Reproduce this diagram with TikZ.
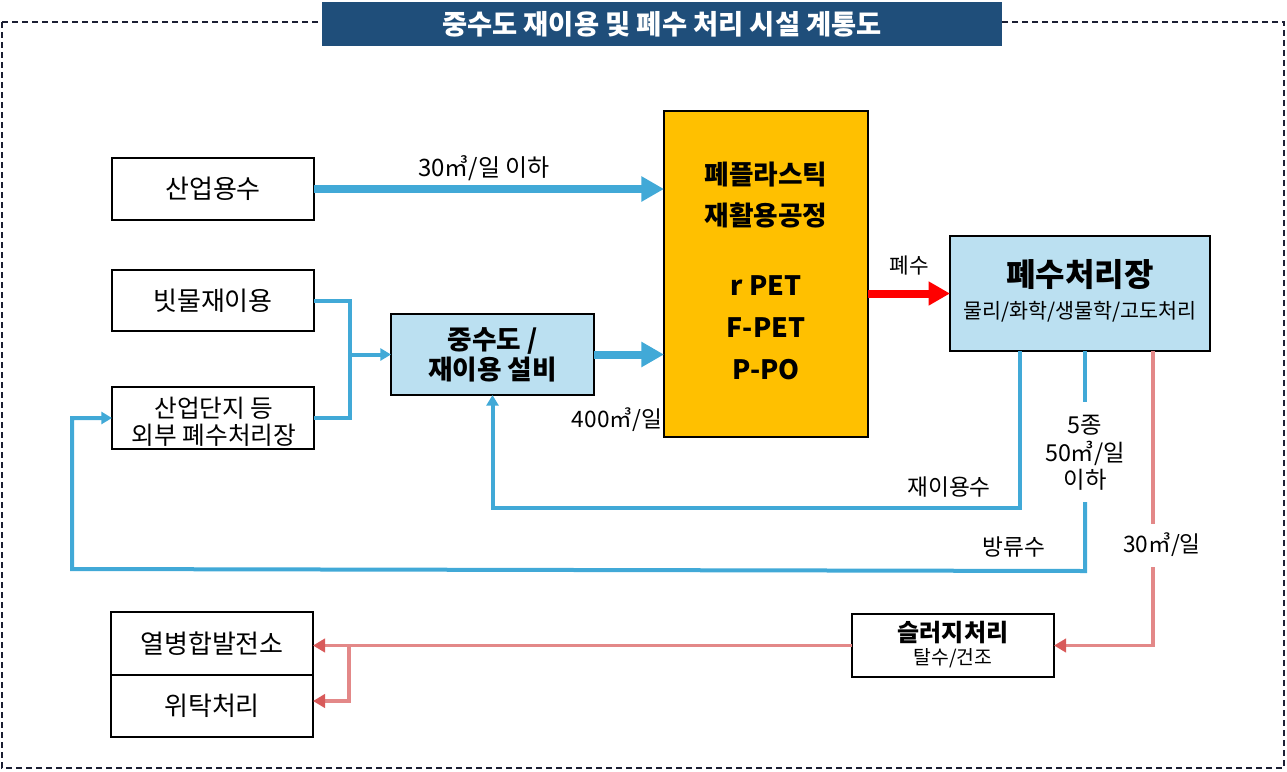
\documentclass[tikz,border=0pt]{standalone}
\usepackage{fontspec}
\setmainfont{Noto Sans CJK KR}
\usetikzlibrary{arrows.meta,calc}
\newdimen\pxu \pxu=0.75pt
\definecolor{lineblue}{HTML}{41A9D7}
\definecolor{boxblue}{HTML}{BBE0F1}
\definecolor{plasticyellow}{HTML}{FFC000}
\definecolor{titleblue}{HTML}{1F4E7A}
\definecolor{framecol}{HTML}{1B1F33}
\definecolor{pinkline}{HTML}{E38888}
\definecolor{pinktip}{HTML}{D85A5A}
\begin{document}
\begin{tikzpicture}[x=0.75pt,y=-0.75pt,
  box/.style={draw=black, line width=1.5pt, inner sep=0pt, outer sep=0pt, align=center,
    font=\fontsize{19.5pt}{20.25pt}\selectfont},
  t17/.style={inner sep=0pt, align=center, font=\fontsize{17.5pt}{20.6pt}\selectfont},
  t15/.style={inner sep=0pt, font=\fontsize{17pt}{20pt}\selectfont},
  bt18/.style={inner sep=0pt, font=\fontsize{20pt}{24pt}\selectfont\bfseries},
  thickblue/.style={draw=lineblue, line width=6pt, -{Triangle[length=17pt,width=18pt]}},
  thinblue/.style={draw=lineblue, line width=3pt},
  thinbluearrow/.style={thinblue, -{Triangle[length=8pt,width=9pt]}},
  redarrow/.style={draw=red, line width=6pt, -{Triangle[length=16pt,width=17pt]}},
  pink/.style={draw=pinkline, line width=2.6pt},
  pinkarrow/.style={pink, -{Triangle[length=9pt,width=10pt,color=pinktip]}}
]
\useasboundingbox (0,0) rectangle (1287,771);
% outer frame
\draw[framecol, line width=2pt, dash pattern=on 4.5pt off 3pt] (2,22) rectangle (1284,768);
% title
\node[fill=titleblue, minimum width=680\pxu, minimum height=44\pxu, inner sep=0pt,
  text=white, font=\fontsize{20.5pt}{24pt}\selectfont\bfseries] (title) at (662,24)
  {중수도 재이용 및 폐수 처리 시설 계통도};

% boxes
\node[box, minimum width=202\pxu, minimum height=62\pxu] (sanup) at (213,189) {산업용수};
\node[box, minimum width=202\pxu, minimum height=61\pxu] (rain) at (213,300.5) {빗물재이용};
\node[box, minimum width=202\pxu, minimum height=62\pxu] (ext) at (213,418) {};
\node[inner sep=0pt, align=center, font=\fontsize{18.5pt}{20.25pt}\selectfont] (extT) at (214,421.5) {산업단지 등\\외부 폐수처리장};
\node[box, fill=boxblue, minimum width=203\pxu, minimum height=81\pxu,
  font=\fontsize{20pt}{22.5pt}\selectfont\bfseries] (grey) at (492.5,354.5) {중수도 /\\재이용 설비};
\node[box, fill=plasticyellow, minimum width=204\pxu, minimum height=326\pxu] (plastic) at (766,274) {};
\node[box, fill=boxblue, minimum width=260\pxu, minimum height=115\pxu] (wwtp) at (1080,293.5) {};
\node[box, minimum width=202\pxu, minimum height=63\pxu] (chp) at (212,643.5) {열병합발전소};
\node[box, minimum width=202\pxu, minimum height=62\pxu] (consign) at (212,706) {위탁처리};
\node[box, minimum width=202\pxu, minimum height=63\pxu] (sludge) at (953,645.5) {};

% texts inside boxes
\node[bt18] (p1) at (766,175) {폐플라스틱};
\node[bt18] (p2) at (766,215) {재활용공정};
\node[bt18] (p3) at (766,286) {r PET};
\node[bt18] (p4) at (766,328) {F-PET};
\node[bt18] (p5) at (766,370) {P-PO};
\node[inner sep=0pt, font=\fontsize{24pt}{28pt}\selectfont\bfseries] (wwtpT) at ($(wwtp.center)+(0,-18.5)$) {폐수처리장};
\node[inner sep=0pt, font=\fontsize{15.5pt}{18pt}\selectfont] (wwtpS) at ($(wwtp.center)+(0,18.5)$) {물리/화학/생물학/고도처리};
\node[inner sep=0pt, font=\fontsize{18pt}{21pt}\selectfont\bfseries] (sludgeT) at ($(sludge.center)+(0,-12.5)$) {슬러지처리};
\node[inner sep=0pt, font=\fontsize{14.5pt}{17pt}\selectfont] (sludgeS) at ($(sludge.center)+(0,12.5)$) {탈수/건조};

% main thick arrows
\draw[thickblue] (sanup.east) -- (sanup.east -| plastic.west);
\draw[thickblue] (grey.east) -- (grey.east -| plastic.west);
\draw[redarrow] (plastic.east |- wwtp.west) -- (wwtp.west);

% merge of rain and external
\coordinate (m) at (350,354.5);
\draw[thinblue] (rain.east) -| (m);
\draw[thinblue] (ext.east) -| (m);
\draw[thinbluearrow] (m) -- (grey.west);

% reuse water
\coordinate (r1) at (1020,508);
\draw[thinbluearrow] (wwtp.south -| r1) -- (r1) -| (grey.south);

% discharge
\coordinate (d1) at (1085,402);
\coordinate (d2) at (1085,502);
\coordinate (d3) at (1085,571);
\coordinate (d4) at (72,569);
\draw[thinblue] (wwtp.south -| d1) -- (d1);
\draw[thinbluearrow] (d2) -- (d3) -- (d4) |- (ext.west);

% sludge line
\coordinate (s1) at (1153,524);
\coordinate (s2) at (1153,567);
\draw[pink] (wwtp.south -| s1) -- (s1);
\draw[pinkarrow] (s2) |- (sludge.east);
\coordinate (b) at (349,645);
\draw[pinkarrow] (sludge.west) -- (sludge.west -| chp.east);
\draw[pinkarrow] (b) |- ([yshift=3.75pt]consign.east);

% labels
\node[inner sep=0pt, font=\fontsize{18pt}{21pt}\selectfont] (l1) at (484,168) {30㎥/일 이하};
\node[inner sep=0pt, font=\fontsize{17pt}{20pt}\selectfont] (l2) at (617,420) {400㎥/일};
\node[inner sep=0pt, font=\fontsize{16pt}{19pt}\selectfont] (l3) at (909,266) {폐수};
\node[t15] (l4) at (949,487) {재이용수};
\node[t15] (l5) at (1014,547) {방류수};
\node[t17] (l6) at (1085,453) {5종\\50㎥/일\\이하};
\node[inner sep=0pt, font=\fontsize{17pt}{20pt}\selectfont] (l7) at (1162,545) {30㎥/일};
\end{tikzpicture}
\end{document}
